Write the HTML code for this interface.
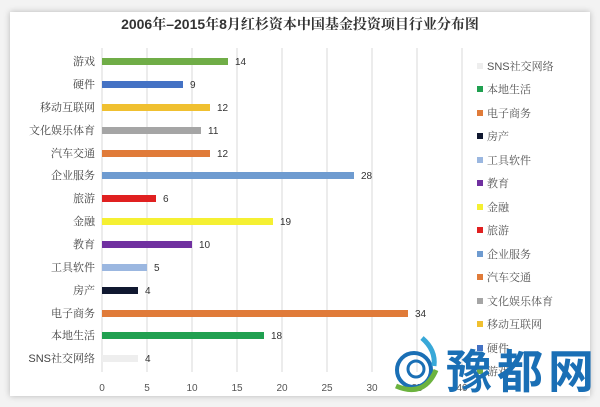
<!DOCTYPE html>
<html><head><meta charset="utf-8"><style>
body{margin:0;width:600px;height:407px;background:#f3f3f3;position:relative;overflow:hidden;font-family:"Liberation Sans","Noto Serif CJK SC",serif;}
#card{position:absolute;left:10px;top:12px;width:580px;height:384px;background:#fff;box-shadow:0 0 6px rgba(0,0,0,.25);}
</style></head><body>
<div id="card"></div>
<svg width="600" height="407" style="position:absolute;left:0;top:0" font-family="Liberation Sans, Noto Serif CJK SC, serif">
<text x="300" y="29" text-anchor="middle" font-size="14" font-weight="bold" fill="#333">2006年–2015年8月红杉资本中国基金投资项目行业分布图</text>
<g stroke="#d9d9d9" stroke-width="1">
<line x1="102" y1="48" x2="102" y2="372"/><line x1="147" y1="48" x2="147" y2="372"/><line x1="192" y1="48" x2="192" y2="372"/><line x1="237" y1="48" x2="237" y2="372"/><line x1="282" y1="48" x2="282" y2="372"/><line x1="327" y1="48" x2="327" y2="372"/><line x1="372" y1="48" x2="372" y2="372"/><line x1="417" y1="48" x2="417" y2="372"/><line x1="462" y1="48" x2="462" y2="372"/>
</g>
<g font-size="10" fill="#555" text-anchor="middle">
<text x="102" y="391">0</text><text x="147" y="391">5</text><text x="192" y="391">10</text><text x="237" y="391">15</text><text x="282" y="391">20</text><text x="327" y="391">25</text><text x="372" y="391">30</text><text x="417" y="391">35</text><text x="462" y="391">40</text>
</g>
<g font-size="11" fill="#444" text-anchor="end">
<text x="95" y="65">游戏</text><text x="95" y="88">硬件</text><text x="95" y="111">移动互联网</text><text x="95" y="134">文化娱乐体育</text><text x="95" y="157">汽车交通</text><text x="95" y="179">企业服务</text><text x="95" y="202">旅游</text><text x="95" y="225">金融</text><text x="95" y="248">教育</text><text x="95" y="271">工具软件</text><text x="95" y="294">房产</text><text x="95" y="317">电子商务</text><text x="95" y="339">本地生活</text><text x="95" y="362">SNS社交网络</text>
</g>
<g>
<rect x="102" y="58" width="126" height="7" fill="#70ad47"/>
<rect x="102" y="81" width="81" height="7" fill="#4472c4"/>
<rect x="102" y="104" width="108" height="7" fill="#f0c030"/>
<rect x="102" y="127" width="99" height="7" fill="#a5a5a5"/>
<rect x="102" y="150" width="108" height="7" fill="#e07b39"/>
<rect x="102" y="172" width="252" height="7" fill="#6e9bd0"/>
<rect x="102" y="195" width="54" height="7" fill="#e02020"/>
<rect x="102" y="218" width="171" height="7" fill="#f5f032"/>
<rect x="102" y="241" width="90" height="7" fill="#7030a0"/>
<rect x="102" y="264" width="45" height="7" fill="#9bb7e0"/>
<rect x="102" y="287" width="36" height="7" fill="#101830"/>
<rect x="102" y="310" width="306" height="7" fill="#e07b39"/>
<rect x="102" y="332" width="162" height="7" fill="#20a050"/>
<rect x="102" y="355" width="36" height="7" fill="#eeeeee"/>
</g>
<g font-size="10" fill="#333">
<text x="235" y="65">14</text><text x="190" y="88">9</text><text x="217" y="111">12</text><text x="208" y="134">11</text><text x="217" y="157">12</text><text x="361" y="179">28</text><text x="163" y="202">6</text><text x="280" y="225">19</text><text x="199" y="248">10</text><text x="154" y="271">5</text><text x="145" y="294">4</text><text x="415" y="317">34</text><text x="271" y="339">18</text><text x="145" y="362">4</text>
</g>
<g font-size="11" fill="#555">
<rect x="477" y="63" width="6" height="6" fill="#eee"/><text x="487" y="70">SNS社交网络</text>
<rect x="477" y="86" width="6" height="6" fill="#20a050"/><text x="487" y="93">本地生活</text>
<rect x="477" y="110" width="6" height="6" fill="#e07b39"/><text x="487" y="117">电子商务</text>
<rect x="477" y="133" width="6" height="6" fill="#101830"/><text x="487" y="140">房产</text>
<rect x="477" y="157" width="6" height="6" fill="#9bb7e0"/><text x="487" y="164">工具软件</text>
<rect x="477" y="180" width="6" height="6" fill="#7030a0"/><text x="487" y="187">教育</text>
<rect x="477" y="204" width="6" height="6" fill="#f5f032"/><text x="487" y="211">金融</text>
<rect x="477" y="227" width="6" height="6" fill="#e02020"/><text x="487" y="234">旅游</text>
<rect x="477" y="251" width="6" height="6" fill="#6e9bd0"/><text x="487" y="258">企业服务</text>
<rect x="477" y="274" width="6" height="6" fill="#e07b39"/><text x="487" y="281">汽车交通</text>
<rect x="477" y="298" width="6" height="6" fill="#a5a5a5"/><text x="487" y="305">文化娱乐体育</text>
<rect x="477" y="321" width="6" height="6" fill="#f0c030"/><text x="487" y="328">移动互联网</text>
<rect x="477" y="345" width="6" height="6" fill="#4472c4"/><text x="487" y="352">硬件</text>
<rect x="477" y="368" width="6" height="6" fill="#70ad47"/><text x="487" y="375">游戏</text>
</g>
<g fill="none" stroke-width="4">
<circle cx="414" cy="370" r="17" stroke="#1a6fb5"/>
<circle cx="416" cy="369" r="8" stroke="#1a6fb5" stroke-width="3"/>
<path d="M396 386 Q424 398 436 370" stroke="#6cb33f" stroke-width="5"/>
<path d="M422 338 Q436 350 434 366" stroke="#38a8d8" stroke-width="5"/>
</g>
<text x="446" y="388" font-size="46" font-weight="bold" fill="#1a6fb5" font-family="Noto Sans CJK SC, sans-serif" letter-spacing="5">豫都网</text>
</svg>
</body></html>
